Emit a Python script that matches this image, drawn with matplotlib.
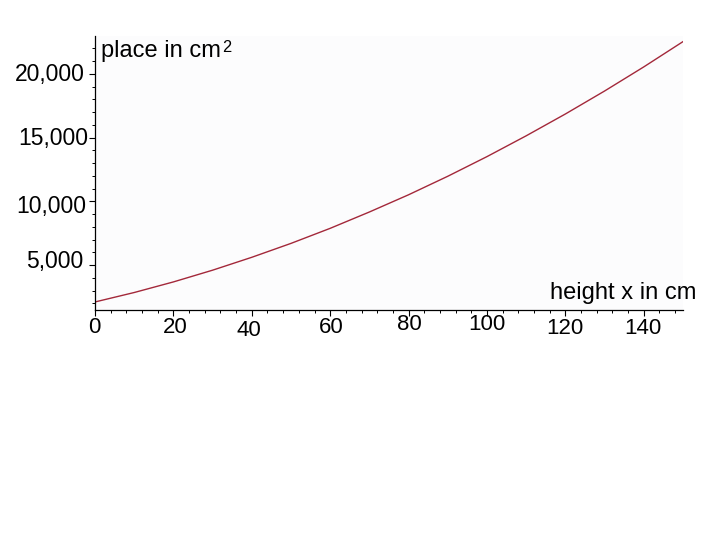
import matplotlib
matplotlib.use("Agg")
import matplotlib.pyplot as plt
from matplotlib.ticker import MultipleLocator, FixedLocator

# ---- data ----
height_cm = [0, 10, 20, 30, 40, 50, 60, 70, 80, 90, 100, 110, 120, 130, 140, 150]
area_cm2 = [2120, 2860, 3690, 4610, 5620, 6710, 7890, 9170, 10520, 11970,
            13510, 15140, 16850, 18650, 20540, 22520]
x_ticks = [0, 20, 40, 60, 80, 100, 120, 140]
x_tick_labels = ["0", "20", "40", "60", "80", "100", "120", "140"]
y_ticks = [5000, 10000, 15000, 20000]
y_tick_labels = ["5,000", "10,000", "15,000", "20,000"]

# label jitter as in the reference (pixels: dx right, dy down)
x_lab_dx = [-1, 2, -3, 1.5, 1, 0, -1, -1]
x_lab_dy = [17.5, 17.5, 20.5, 17.5, 15, 15, 18, 19]
y_lab_dx = [-11.7, -9, -7, -10]
y_lab_dy = [-4, 5.3, 0.7, 1]

plt.rcParams['font.family'] = ['Liberation Sans', 'DejaVu Sans']

W, H = 720, 540
fig = plt.figure(figsize=(7.2, 5.4), dpi=100)
fig.patch.set_facecolor('white')
ax = fig.add_axes([95 / W, 1 - 310 / H, 588 / W, 274 / H])
ax.set_facecolor('#fcfcfd')

ax.plot(height_cm, area_cm2, color='#a3283a', lw=1.0)

ax.set_xlim(0, 150)
ax.set_ylim(1490, 22960)

for s in ['top', 'right']:
    ax.spines[s].set_visible(False)
for s in ['left', 'bottom']:
    ax.spines[s].set_color('black')
    ax.spines[s].set_linewidth(0.9)

ax.xaxis.set_major_locator(FixedLocator(x_ticks))
ax.yaxis.set_major_locator(FixedLocator(y_ticks))
ax.xaxis.set_minor_locator(MultipleLocator(4))
ax.yaxis.set_minor_locator(MultipleLocator(1000))
ax.tick_params(which='major', direction='out', length=4, width=0.8,
               labelbottom=False, labelleft=False)
ax.tick_params(which='minor', direction='out', length=2.5, width=0.7)

px = 0.72  # points per pixel at 100 dpi
for xv, lab, dx, dy in zip(x_ticks, x_tick_labels, x_lab_dx, x_lab_dy):
    ax.annotate(lab, xy=(xv, 0), xycoords=('data', 'axes fraction'),
                xytext=(dx * px, -dy * px), textcoords='offset points',
                ha='center', va='center', fontsize=16, color='black')
for yv, lab, dx, dy in zip(y_ticks, y_tick_labels, y_lab_dx, y_lab_dy):
    ax.annotate(lab, xy=(0, yv), xycoords=('axes fraction', 'data'),
                xytext=(dx * px, -dy * px), textcoords='offset points',
                ha='right', va='center', fontsize=16.5, color='black')

fig.text(101 / W, 1 - 57 / H, "place in cm", fontsize=17, va='baseline', ha='left')
fig.text(222 / W, 1 - 51.5 / H, "2", fontsize=11.8, va='baseline', ha='left')
fig.text(550 / W, 1 - 299.5 / H, "height x in cm", fontsize=17, va='baseline', ha='left')

fig.savefig("out.png", dpi=100)
